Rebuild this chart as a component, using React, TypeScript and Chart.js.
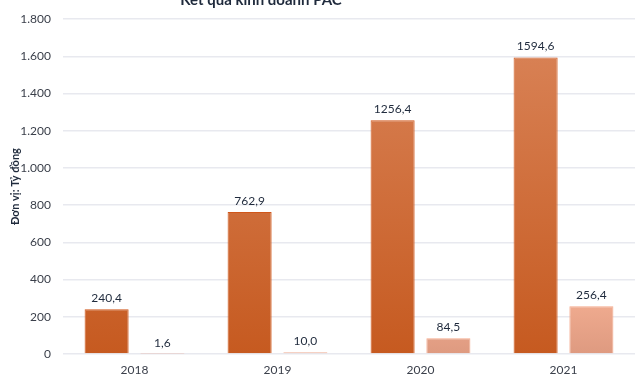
import React, { useEffect, useRef } from "react";
import { Chart, registerables } from "chart.js";

Chart.register(...registerables);

const categories = ["2018", "2019", "2020", "2021"];
const revenue = [240.4, 762.9, 1256.4, 1594.6];
const profit = [1.6, 10.0, 84.5, 256.4];
const chartTitle = "Kết quả kinh doanh PAC";
const yTitle = "Đơn vị: Tỷ đồng";

const fmtLabel = (v: number) => v.toFixed(1).replace(".", ",");
const fmtTick = (v: number) => String(v).replace(/\B(?=(\d{3})+(?!\d))/g, ".");

const FONT = "Lato, 'Open Sans', sans-serif";

function grad(ctx: any, area: any, top: string, bottom: string) {
  const g = ctx.createLinearGradient(0, area.top, 0, area.bottom);
  g.addColorStop(0, top);
  g.addColorStop(1, bottom);
  return g;
}

const labelPlugin = {
  id: "valueLabels",
  afterDatasetsDraw(chart: any) {
    const ctx = chart.ctx;
    ctx.save();
    ctx.font = `12px ${FONT}`;
    ctx.fillStyle = "#1F2A3C";
    ctx.textAlign = "center";
    ctx.textBaseline = "alphabetic";
    chart.data.datasets.forEach((ds: any, i: number) => {
      const meta = chart.getDatasetMeta(i);
      meta.data.forEach((bar: any, j: number) => {
        ctx.fillText(fmtLabel(ds.data[j]), bar.x, bar.y - 7);
      });
    });
    ctx.restore();
  },
};

const titlePlugin = {
  id: "clippedTitle",
  afterDraw(chart: any) {
    const ctx = chart.ctx;
    ctx.save();
    ctx.font = `bold 15px ${FONT}`;
    ctx.fillStyle = "#1F2A3C";
    ctx.textAlign = "center";
    ctx.textBaseline = "alphabetic";
    ctx.fillText(chartTitle, 261, 5);
    ctx.restore();
  },
};

export default function App() {
  const ref = useRef<HTMLCanvasElement>(null);
  useEffect(() => {
    const chart = new Chart(ref.current!, {
      type: "bar",
      data: {
        labels: categories,
        datasets: [
          {
            label: "Doanh thu",
            data: revenue,
            backgroundColor: (c: any) => {
              const a = c.chart.chartArea;
              if (!a) return "#D4682C";
              return grad(c.chart.ctx, a, "#DA855A", "#C65A20");
            },
            borderColor: "#D0561A",
            borderWidth: 1,
            categoryPercentage: 0.78,
            barPercentage: 0.79,
          },
          {
            label: "Lợi nhuận",
            data: profit,
            backgroundColor: (c: any) => {
              const a = c.chart.chartArea;
              if (!a) return "#F0A88C";
              return grad(c.chart.ctx, { top: a.bottom - 60, bottom: a.bottom }, "#F3AE92", "#DE9A80");
            },
            borderColor: "#F4A88A",
            borderWidth: 1,
            categoryPercentage: 0.78,
            barPercentage: 0.79,
          },
        ],
      },
      options: {
        animation: false,
        responsive: false,
        maintainAspectRatio: false,
        layout: { padding: { top: 10, right: 5, bottom: 0, left: 0 } },
        plugins: {
          legend: { display: false },
          tooltip: { enabled: false },
          title: { display: false },
        },
        scales: {
          x: {
            afterFit: (s: any) => { s.height = 27; },
            grid: { display: false, drawTicks: false },
            border: { display: false },
            ticks: { color: "#3A3F4A", font: { family: FONT, size: 12 }, padding: 9 },
          },
          y: {
            min: 0,
            max: 1800,
            afterFit: (s: any) => { s.width = 63; },
            grid: { color: "#E8E9EF", drawTicks: false, lineWidth: 1.5 },
            border: { display: false },
            ticks: {
              stepSize: 200,
              padding: 12,
              color: "#3A3F4A",
              font: { family: FONT, size: 12 },
              callback: (v: any) => fmtTick(Number(v)),
            },
            title: {
              display: true,
              text: yTitle,
              color: "#1F2A3C",
              font: { family: FONT, size: 11, weight: "bold" },
              padding: { top: 9, bottom: 0 },
            },
          },
        },
      },
      plugins: [labelPlugin, titlePlugin],
    });
    return () => chart.destroy();
  }, []);
  return (
    <div style={{ position: "absolute", left: 0, top: 0, width: 640, height: 381, background: "#fff" }}>
      <canvas ref={ref} width={640} height={381} style={{ display: "block" }} />
    </div>
  );
}
